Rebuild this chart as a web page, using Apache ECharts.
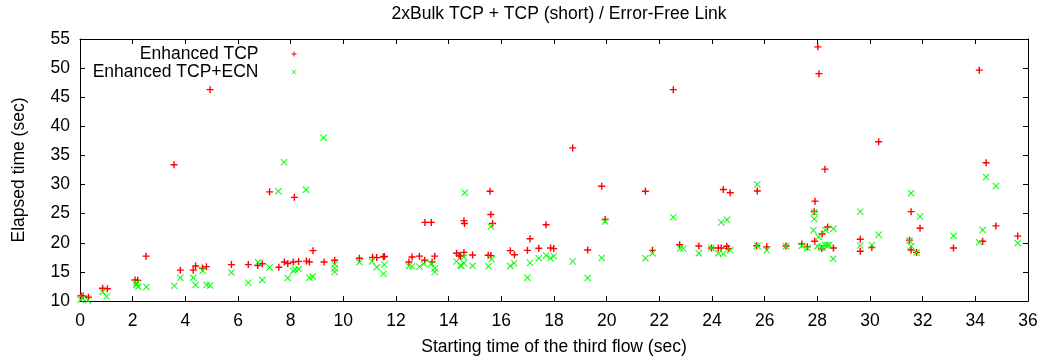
<!DOCTYPE html>
<html>
<head>
<meta charset="utf-8">
<script src="https://cdn.jsdelivr.net/npm/echarts@6/dist/echarts.min.js"></script>
<style>html,body{margin:0;padding:0;background:#fff}#c{width:1047px;height:361px}</style>
</head>
<body>
<div id="c"></div>
<script>
const titleText = '2xBulk TCP + TCP (short) / Error-Free Link';
const xName = 'Starting time of the third flow (sec)';
const yName = 'Elapsed time (sec)';
const seriesNames = ['Enhanced TCP', 'Enhanced TCP+ECN'];

const tcpX = [0.04,0.12,0.32,0.86,1.04,2.09,2.19,2.51,3.57,3.81,4.30,4.39,4.65,4.80,4.94,5.75,6.39,6.75,6.92,7.20,7.55,7.76,7.89,8.10,8.14,8.30,8.60,8.71,8.85,9.27,9.67,10.61,11.11,11.27,11.52,11.56,12.49,12.61,12.89,13.09,13.10,13.34,13.37,13.47,14.30,14.40,14.45,14.58,14.58,14.60,14.91,15.50,15.57,15.60,15.67,15.60,16.34,16.50,16.99,17.09,17.42,17.70,17.87,17.99,18.71,19.28,19.81,19.94,21.47,21.74,22.53,22.77,23.50,23.98,24.24,24.35,24.43,24.56,24.62,24.69,25.70,25.72,26.08,26.81,27.41,27.62,27.88,27.91,27.90,28.02,28.06,28.17,28.18,28.29,28.39,28.61,29.63,29.63,30.07,30.33,31.50,31.56,31.56,31.77,31.90,33.17,34.15,34.28,34.41,34.78,35.61];
const tcpY = [10.9,10.85,10.65,12.2,12.1,13.6,13.55,17.7,33.4,15.3,15.3,16.0,15.65,15.9,46.3,16.25,16.25,16.1,16.4,28.75,15.8,16.7,16.45,16.7,27.8,16.8,16.85,16.7,18.65,16.7,17.0,17.35,17.5,17.45,17.6,17.65,16.7,17.55,17.7,17.0,23.5,23.5,16.7,17.7,18.2,17.8,17.7,18.35,23.8,23.3,17.9,17.85,28.85,24.85,23.3,17.8,18.65,17.95,18.7,20.7,19.05,23.1,19.1,19.0,36.3,18.75,29.7,24.0,28.85,18.7,46.3,19.65,19.45,19.1,19.1,19.1,29.15,19.4,19.0,28.6,19.5,28.9,19.3,19.45,19.8,19.3,25.35,27.15,20.25,53.65,49.05,19.0,21.5,32.65,22.7,19.1,20.6,18.55,19.2,37.35,20.45,25.35,18.75,18.35,22.5,19.1,49.65,20.25,33.75,22.9,21.15];

const ecnX = [0.02,0.10,0.30,0.86,1.01,2.13,2.15,2.21,2.52,3.58,3.81,4.30,4.39,4.66,4.81,4.94,5.75,6.39,6.76,6.92,7.20,7.53,7.75,7.89,8.10,8.17,8.30,8.58,8.71,8.84,9.25,9.67,9.67,9.67,10.61,11.09,11.27,11.52,11.56,12.49,12.61,12.89,13.06,13.34,13.47,13.47,14.30,14.45,14.48,14.58,14.61,14.58,14.91,15.51,15.60,15.63,16.34,16.49,16.99,17.09,17.42,17.70,17.87,17.99,18.71,19.28,19.81,19.94,21.47,21.74,22.53,22.79,22.91,23.50,23.98,24.24,24.35,24.43,24.57,24.69,25.72,25.72,26.08,26.81,27.41,27.62,27.88,27.88,27.85,28.05,28.00,28.14,28.20,28.31,28.30,28.38,28.45,28.61,28.60,29.63,29.63,30.07,30.33,31.50,31.56,31.56,31.77,31.90,33.17,34.15,34.28,34.41,34.78,35.61];
const ecnY = [10.2,10.5,10.1,11.55,10.8,12.75,13.1,12.45,12.4,12.6,14.0,14.0,12.75,15.2,12.75,12.65,14.9,13.15,16.65,13.6,15.75,28.85,33.85,13.95,15.2,15.4,15.5,29.1,14.0,14.2,38.05,16.3,15.6,15.0,16.65,16.8,15.8,14.7,16.25,16.0,15.95,15.9,16.4,16.4,15.6,15.0,16.8,16.1,16.0,16.5,28.6,17.55,16.05,15.95,22.8,17.2,16.0,16.5,14.0,16.55,17.35,17.8,17.35,17.7,16.8,13.95,17.4,23.65,17.35,18.2,24.4,19.0,19.0,18.2,19.1,18.2,23.5,18.1,23.95,18.7,30.0,19.5,18.7,19.4,19.5,19.1,25.2,24.1,22.15,21.0,19.4,19.2,19.2,22.2,19.6,19.6,19.6,22.4,17.25,25.35,19.55,19.6,21.4,20.4,28.5,19.4,18.35,24.5,21.2,20.1,22.2,31.3,29.75,19.95];

const xMin = 0, xMax = 36, xStep = 2;
const yMin = 10, yMax = 55, yStep = 5;

const PLUS = 'path://M4,0H6V4H10V6H6V10H4V6H0V4H4Z';
const CROSS = 'path://M0,1L1,0L5,4L9,0L10,1L6,5L10,9L9,10L5,6L1,10L0,9L4,5Z';
const FONT = 'Liberation Sans, Arial, sans-serif';
const FS = 17.5;

const zip = (xs, ys) => xs.map((x, i) => [x, ys[i]]);

const chart = echarts.init(document.getElementById('c'), null, {renderer: 'canvas'});

const axisCommon = {
  axisLine: {show: true, onZero: false, lineStyle: {color: '#000', width: 1}},
  axisTick: {show: true, inside: true, length: 5, lineStyle: {color: '#000', width: 1}},
  splitLine: {show: false}
};

function legendFor(name, icon, top) {
  return {
    data: [{name: name, icon: icon}],
    orient: 'horizontal', align: 'right',
    right: 1047 - 296.5, top: top, padding: 0,
    itemWidth: 5, itemHeight: 5,
    selectedMode: false,
    textStyle: {fontFamily: FONT, fontSize: FS, color: '#000', padding: [0, 28, 0, 0]}
  };
}

chart.setOption({
  animation: false,
  backgroundColor: '#fff',
  title: {
    text: titleText, left: 554, top: 0, textAlign: 'center',
    textStyle: {fontFamily: FONT, fontSize: 17.5, fontWeight: 'normal', color: '#000'}
  },
  legend: [legendFor(seriesNames[0], PLUS, 45), legendFor(seriesNames[1], CROSS, 63)],
  grid: {left: 80, right: 19, top: 39, bottom: 57, containLabel: false},
  xAxis: [
    Object.assign({
      type: 'value', min: xMin, max: xMax, interval: xStep, position: 'bottom',
      name: xName, nameLocation: 'middle', nameGap: 37,
      nameTextStyle: {fontFamily: FONT, fontSize: FS, color: '#000'},
      axisLabel: {fontFamily: FONT, fontSize: FS, color: '#000', margin: 11}
    }, axisCommon),
    Object.assign({
      type: 'value', min: xMin, max: xMax, interval: xStep, position: 'top',
      axisLabel: {show: false}
    }, axisCommon)
  ],
  yAxis: [
    Object.assign({
      type: 'value', min: yMin, max: yMax, interval: yStep, position: 'left',
      name: yName, nameLocation: 'middle', nameGap: 52,
      nameTextStyle: {fontFamily: FONT, fontSize: FS, color: '#000'},
      axisLabel: {fontFamily: FONT, fontSize: FS, color: '#000', margin: 10}
    }, axisCommon),
    Object.assign({
      type: 'value', min: yMin, max: yMax, interval: yStep, position: 'right',
      axisLabel: {show: false}
    }, axisCommon)
  ],
  series: [
    {
      name: seriesNames[0], type: 'scatter', xAxisIndex: 0, yAxisIndex: 0,
      symbol: PLUS, symbolSize: 7,
      itemStyle: {color: '#ff0000', opacity: 1},
      data: zip(tcpX, tcpY), z: 2
    },
    {
      name: seriesNames[1], type: 'scatter', xAxisIndex: 0, yAxisIndex: 0,
      symbol: CROSS, symbolSize: 7,
      itemStyle: {color: '#00ff00', opacity: 1},
      data: zip(ecnX, ecnY), z: 3
    }
  ]
});
</script>
</body>
</html>
